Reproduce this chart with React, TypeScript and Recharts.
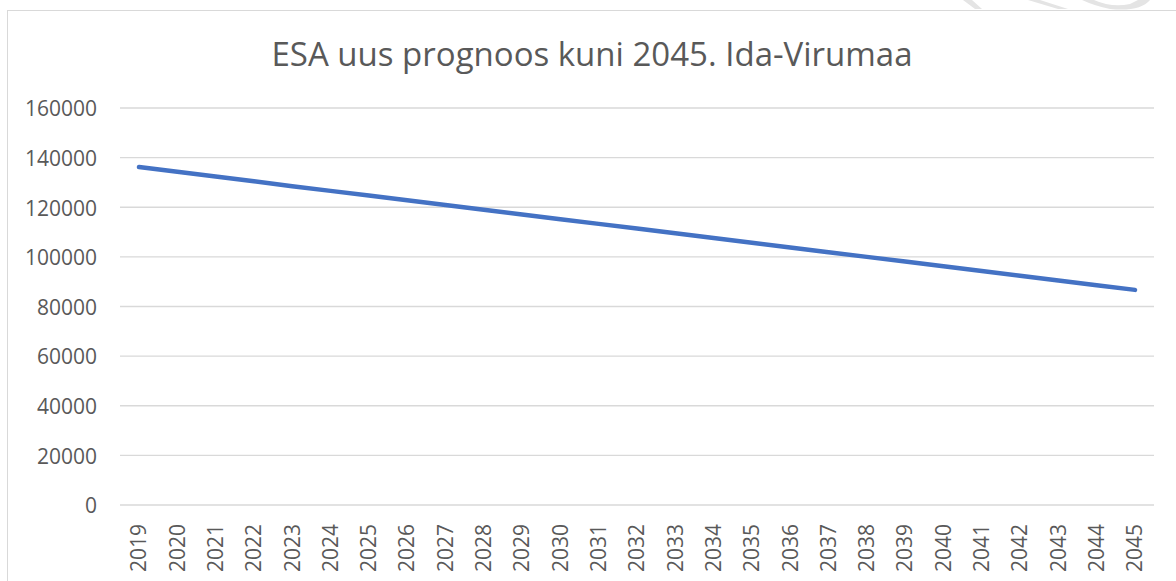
import { LineChart, Line, XAxis, YAxis, CartesianGrid } from "recharts";

const years = [
  "2019", "2020", "2021", "2022", "2023", "2024", "2025", "2026", "2027",
  "2028", "2029", "2030", "2031", "2032", "2033", "2034", "2035", "2036",
  "2037", "2038", "2039", "2040", "2041", "2042", "2043", "2044", "2045",
];

const population = [
  136200, 134300, 132400, 130450, 128500, 126600, 124700, 122800, 120900,
  119000, 117100, 115200, 113300, 111400, 109500, 107600, 105700, 103800,
  101900, 100000, 98100, 96200, 94300, 92400, 90500, 88600, 86700,
];

const yTicks = [0, 20000, 40000, 60000, 80000, 100000, 120000, 140000, 160000];

const title = "ESA uus prognoos kuni 2045. Ida-Virumaa";

const FONT = "'Open Sans', sans-serif";
const TEXT = "#595959";
const GRID = "#d9d9d9";

const data = years.map((year, i) => ({ year, value: population[i] }));

function YTick({ x, y, payload }: any) {
  return (
    <text x={x - 15} y={y + 1} dy="0.35em" textAnchor="end" fill={TEXT} fontSize={21} fontFamily={FONT}>
      {payload.value}
    </text>
  );
}

function XTick({ x, y, payload }: any) {
  const ty = y + 11;
  return (
    <text
      x={x}
      y={ty}
      dy="0.35em"
      textAnchor="end"
      transform={`rotate(-90, ${x}, ${ty})`}
      fill={TEXT}
      fontSize={21}
      fontFamily={FONT}
    >
      {payload.value}
    </text>
  );
}

export default function App() {
  return (
    <div style={{ position: "absolute", left: 0, top: 0, width: 1176, height: 581, overflow: "hidden", background: "#fff" }}>
      {/* faint page marks above the chart frame */}
      <svg style={{ position: "absolute", left: 0, top: 0 }} width={1176} height={12}>
        <path d="M963 0 L972 0 L982 9 L975 9 Z" fill="#e4e4e4" />
        <path d="M1028 0 L1040 0 L1068 9 L1058 9 Z" fill="#e4e4e4" />
        <path d="M1082 0 L1094 0 Q1112 8 1130 4 L1138 0 L1150 0 Q1140 12 1110 9 Q1095 6 1082 0 Z" fill="#e4e4e4" />
      </svg>
      <div
        style={{
          position: "absolute",
          left: 7,
          top: 10,
          width: 1200,
          height: 620,
          border: `1px solid ${GRID}`,
        }}
      />
      <div
        style={{
          position: "absolute",
          left: 7,
          width: 1170,
          top: 31,
          textAlign: "center",
          fontFamily: FONT,
          fontSize: 33,
          color: TEXT,
          whiteSpace: "nowrap",
        }}
      >
        {title}
      </div>
      <div style={{ position: "absolute", left: 0, top: 0 }}>
        <LineChart width={1176} height={581} data={data} margin={{ top: 108, right: 22, left: 20, bottom: 0 }}>
          <CartesianGrid vertical={false} stroke={GRID} strokeWidth={1.3} />
          <XAxis
            dataKey="year"
            interval={0}
            height={76}
            axisLine={false}
            tickLine={false}
            padding={{ left: 19, right: 19 }}
            tick={<XTick />}
          />
          <YAxis
            domain={[0, 160000]}
            ticks={yTicks}
            width={100}
            axisLine={false}
            tickLine={false}
            tick={<YTick />}
          />
          <Line
            type="linear"
            dataKey="value"
            stroke="#4472c4"
            strokeWidth={4.5}
            strokeLinecap="round"
            dot={false}
            activeDot={false}
            isAnimationActive={false}
          />
        </LineChart>
      </div>
    </div>
  );
}
